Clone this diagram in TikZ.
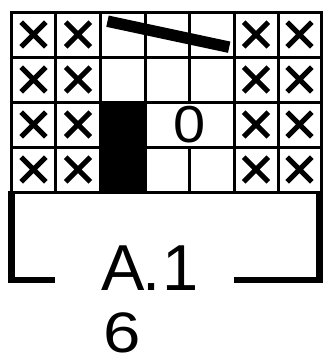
\documentclass[tikz,border=0pt]{standalone}
\usepackage{fontspec}
\setmainfont{Liberation Sans}
\begin{document}
\begin{tikzpicture}[x=1pt,y=-1pt,
  gridline/.style={line width=3pt, line cap=rect},
  xmark/.style={line width=5.2pt},
  slantbar/.style={line width=11.5pt},
  bracket/.style={line width=6.5pt, line join=miter},
  lbl/.style={inner sep=0pt, outer sep=0pt}]
\useasboundingbox (0,0) rectangle (323,356);
\fill[white] (0,0) rectangle (323,356);
% black filled cell (column 3, rows 3-4)
\fill[black] (100.5,102) rectangle (145.5,192);
% horizontal grid lines
\foreach \y in {12,57,102,147,192}
  \draw[gridline] (11.5,\y) -- (321,\y);
% vertical grid lines
\foreach \x in {11.5,55.5,100.5,145.5,234,278,321}
  \draw[gridline] (\x,12) -- (\x,192);
\draw[gridline] (189.5,12) -- (189.5,102);
\draw[gridline] (189.5,147) -- (189.5,192);
% cross marks
\foreach \cx in {33.5,78,256,299.5}
  \foreach \cy in {34.5,79.5,124.5,169.5}
    \draw[xmark] (\cx-12.3,\cy-12.3) -- (\cx+12.3,\cy+12.3)
                 (\cx-12.3,\cy+12.3) -- (\cx+12.3,\cy-12.3);
% slanted bar in the top row
\draw[slantbar] (107.5,21.2) -- (229.2,47.2);
% zero symbol
\node[lbl, font=\fontsize{52}{52}\selectfont, xscale=1.11, anchor=base] (zero) at (189.5,142) {0};
% bracket
\draw[bracket] (11.7,190.5) -- (11.7,280) -- (55,280);
\draw[bracket] (234,280) -- (319.5,280) -- (319.5,190.5);
% labels
\node[lbl, font=\fontsize{65}{65}\selectfont, anchor=base west] (name) at (101.7,290) {A\kern-2.4pt.\kern2.2pt1};
\node[lbl, font=\fontsize{57}{57}\selectfont, xscale=1.18, anchor=base west] (num) at (103.8,352) {6};
\end{tikzpicture}
\end{document}
